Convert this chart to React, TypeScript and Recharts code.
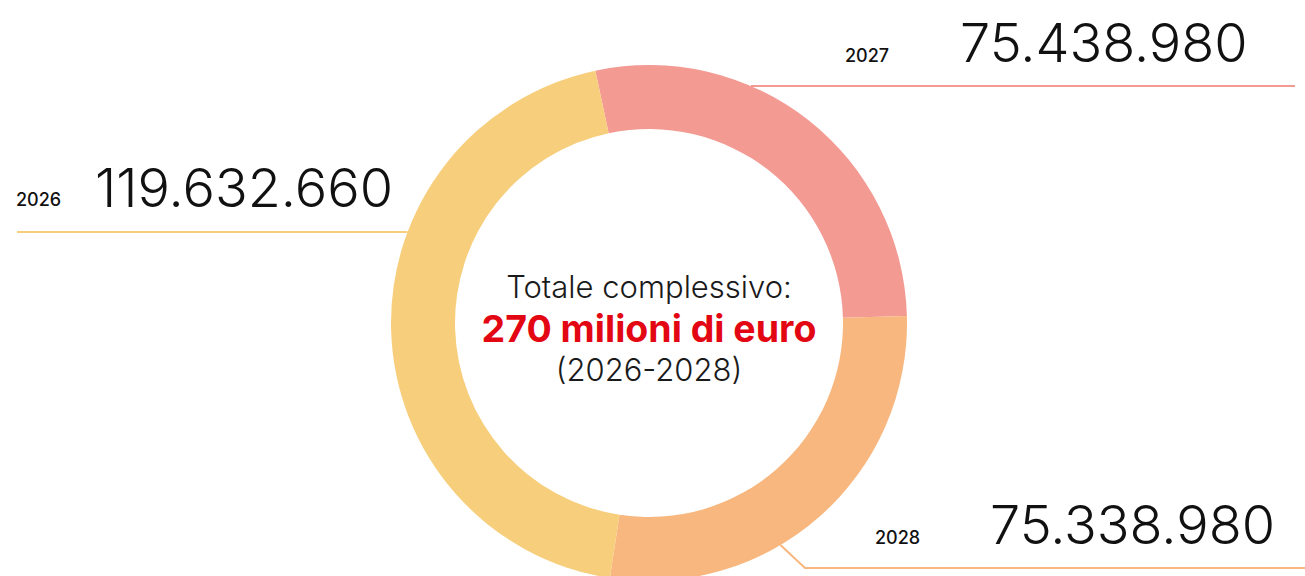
import { PieChart, Pie, Cell } from 'recharts';

const years = ['2027', '2028', '2026'];
const amounts = [75438980, 75338980, 119632660];
const amountLabels = ['75.438.980', '75.338.980', '119.632.660'];
const colors = ['#f39a93', '#f7b77e', '#f7ce7b'];

const data = years.map((year, i) => ({ name: year, value: amounts[i], label: amountLabels[i] }));

// where each callout sits (layout only)
const callouts = [
  { lineY: 86, lineEnd: 1295, side: 'right', yearX: 845, yearY: 62, valueX: 960, valueY: 62 },
  { lineY: 545, elbowX: 805, elbowY: 568, lineEnd: 1305, side: 'right', yearX: 875, yearY: 544, valueX: 990, valueY: 544 },
  { lineY: 232, lineEnd: 17, side: 'left', yearX: 16, yearY: 206, valueX: 95, valueY: 207 },
];

interface LabelProps {
  cx: number;
  cy: number;
  outerRadius: number;
  index: number;
}

function CalloutLabel({ cx, cy, outerRadius, index }: LabelProps) {
  const c = callouts[index];
  const d = data[index];
  const dy = cy - c.lineY;
  const dx = Math.sqrt(Math.max(outerRadius * outerRadius - dy * dy, 0));
  const startX = c.side === 'right' ? cx + dx : cx - dx;
  const points =
    c.elbowX !== undefined
      ? `${startX},${c.lineY} ${c.elbowX},${c.elbowY} ${c.lineEnd},${c.elbowY}`
      : `${startX},${c.lineY} ${c.lineEnd},${c.lineY}`;
  return (
    <g>
      <polyline points={points} fill="none" stroke={colors[index]} strokeWidth={2} />
      <text x={c.yearX} y={c.yearY} fontFamily="Inter" fontSize={18} fontWeight={500} fill="#111">
        {d.name}
      </text>
      <text x={c.valueX} y={c.valueY} fontFamily="Inter" fontSize={54} fontWeight={300} fill="#111">
        {d.label}
      </text>
    </g>
  );
}

export default function App() {
  return (
    <div style={{ position: 'absolute', left: 0, top: 0, background: '#fff' }}>
      <PieChart width={1305} height={576} margin={{ top: 0, right: 0, bottom: 0, left: 0 }}>
        <Pie
          data={data}
          dataKey="value"
          nameKey="name"
          cx={649}
          cy={323}
          innerRadius={194}
          outerRadius={258}
          startAngle={102}
          endAngle={-258}
          stroke="none"
          labelLine={false}
          label={(props: any) => <CalloutLabel {...props} />}
          isAnimationActive={false}
        >
          {data.map((d, i) => (
            <Cell key={d.name} fill={colors[i]} />
          ))}
        </Pie>
        <text x={649} y={298} textAnchor="middle" fontFamily="Inter" fontSize={31} fontWeight={300} fill="#1a1a1a">
          Totale complessivo:
        </text>
        <text x={649} y={342} textAnchor="middle" fontFamily="Inter" fontSize={37.5} fontWeight={700} fill="#e30613">
          270 milioni di euro
        </text>
        <text x={649} y={381} textAnchor="middle" fontFamily="Inter" fontSize={31} fontWeight={300} fill="#1a1a1a">
          (2026-2028)
        </text>
      </PieChart>
    </div>
  );
}
